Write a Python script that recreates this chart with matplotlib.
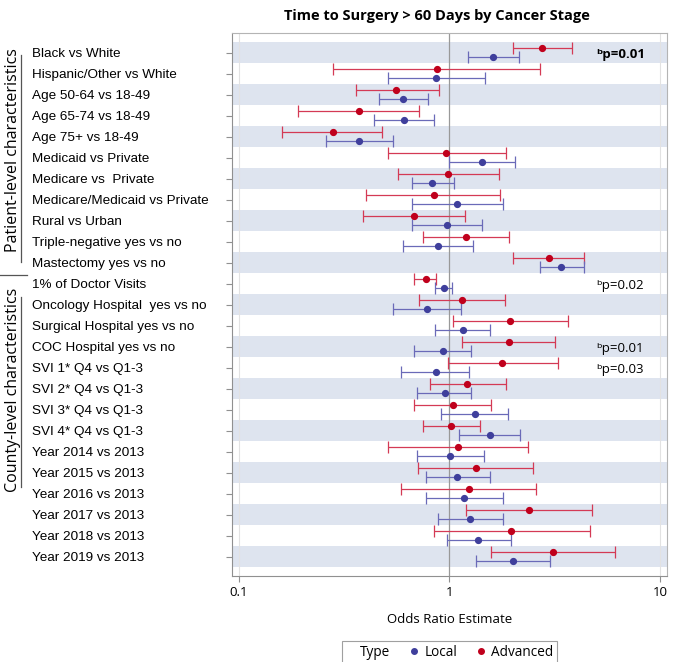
import matplotlib.pyplot as plt
import numpy as np
from matplotlib.lines import Line2D

plt.rcParams["font.family"] = ["Open Sans", "DejaVu Sans"]

labels = [
    "Black vs White", "Hispanic/Other vs White", "Age 50-64 vs 18-49",
    "Age 65-74 vs 18-49", "Age 75+ vs 18-49", "Medicaid vs Private",
    "Medicare vs  Private", "Medicare/Medicaid vs Private", "Rural vs Urban",
    "Triple-negative yes vs no", "Mastectomy yes vs no", "1% of Doctor Visits",
    "Oncology Hospital  yes vs no", "Surgical Hospital yes vs no",
    "COC Hospital yes vs no", "SVI 1* Q4 vs Q1-3", "SVI 2* Q4 vs Q1-3",
    "SVI 3* Q4 vs Q1-3", "SVI 4* Q4 vs Q1-3", "Year 2014 vs 2013",
    "Year 2015 vs 2013", "Year 2016 vs 2013", "Year 2017 vs 2013",
    "Year 2018 vs 2013", "Year 2019 vs 2013",
]

# odds ratios and 95% CI
local_or = [1.61, 0.86, 0.60, 0.61, 0.37, 1.43, 0.83, 1.08, 0.97, 0.88, 3.40, 0.94,
            0.78, 1.16, 0.93, 0.86, 0.95, 1.32, 1.56, 1.01, 1.09, 1.17, 1.25, 1.36, 2.00]
local_lo = [1.22, 0.51, 0.46, 0.44, 0.26, 1.00, 0.66, 0.66, 0.66, 0.60, 2.70, 0.85,
            0.54, 0.85, 0.68, 0.59, 0.70, 0.91, 1.11, 0.70, 0.77, 0.77, 0.88, 0.97, 1.33]
local_hi = [2.14, 1.47, 0.79, 0.84, 0.54, 2.05, 1.05, 1.79, 1.42, 1.30, 4.37, 1.03,
            1.13, 1.56, 1.27, 1.24, 1.27, 1.89, 2.17, 1.46, 1.55, 1.79, 1.79, 1.95, 2.99]
adv_or = [2.76, 0.87, 0.56, 0.37, 0.28, 0.96, 0.98, 0.84, 0.68, 1.20, 2.97, 0.77,
          1.15, 1.94, 1.92, 1.78, 1.21, 1.04, 1.02, 1.10, 1.33, 1.24, 2.38, 1.97, 3.09]
adv_lo = [2.00, 0.28, 0.36, 0.19, 0.16, 0.51, 0.57, 0.40, 0.39, 0.75, 2.00, 0.68,
          0.72, 1.04, 1.15, 0.98, 0.81, 0.68, 0.75, 0.51, 0.71, 0.59, 1.20, 0.84, 1.57]
adv_hi = [3.83, 2.70, 0.89, 0.72, 0.48, 1.85, 1.71, 1.74, 1.18, 1.92, 4.37, 0.86,
          1.83, 3.64, 3.18, 3.26, 1.85, 1.57, 1.40, 2.36, 2.48, 2.59, 4.73, 4.65, 6.11]

p_rows = [0, 11, 14, 15]
p_vals = ["0.01", "0.02", "0.01", "0.03"]

RED_LINE, RED_DOT = "#d43a55", "#c0001c"
BLUE_LINE, BLUE_DOT = "#6a6ab8", "#3f3f9c"
BAND = "#dee4ef"
W, H = 678, 662


def fx(px):
    return px / W


def fy(py):
    return 1 - py / H


fig = plt.figure(figsize=(W / 100, H / 100), dpi=100)
ax = fig.add_axes([fx(232), fy(576), fx(667) - fx(232), fy(33) - fy(576)])

y = np.arange(len(labels))
for i in range(0, len(labels), 2):
    ax.axhspan(i - 0.5, i + 0.5, color=BAND, lw=0, zorder=0)

ax.axvline(1, color="#999999", lw=0.9, zorder=1)
for v in (0.1, 10):
    ax.axvline(v, color="#e2e2e2", lw=0.8, zorder=1)

a_or, l_or = np.array(adv_or), np.array(local_or)
ax.errorbar(a_or, y - 0.22,
            xerr=[a_or - np.array(adv_lo), np.array(adv_hi) - a_or],
            fmt="none", ecolor=RED_LINE, elinewidth=0.9, capsize=4, capthick=0.9, zorder=2)
ax.errorbar(l_or, y + 0.2,
            xerr=[l_or - np.array(local_lo), np.array(local_hi) - l_or],
            fmt="none", ecolor=BLUE_LINE, elinewidth=0.9, capsize=4, capthick=0.9, zorder=2)
ax.plot(a_or, y - 0.22, "o", color=RED_DOT, ms=4.2, zorder=3)
ax.plot(l_or, y + 0.2, "o", color=BLUE_DOT, ms=4.2, zorder=3)

for k, (r, p) in enumerate(zip(p_rows, p_vals)):
    ax.text(5.0, r + 0.1, "\u1d47p=" + p, fontsize=9.5, va="center", ha="left",
            fontweight="bold" if k == 0 else "normal")

ax.set_xscale("log")
ax.set_xlim(0.0926, 10.8)
ax.set_ylim(len(labels) - 0.09, -0.94)
ax.set_xticks([0.1, 1, 10])
ax.set_xticklabels(["0.1", "1", "10"])
ax.minorticks_off()
ax.set_yticks(y)
ax.set_yticklabels(labels, fontsize=9.7, family="Liberation Sans", ha="left")
ax.tick_params(axis="y", length=4, color="#909090", width=0.8, pad=140)
ax.tick_params(axis="x", length=4, color="#909090", width=0.8, labelsize=9.5, pad=3)
for s in ax.spines.values():
    s.set_color("#b4b4b4")
    s.set_linewidth(0.8)
ax.spines["left"].set_color("#909090")
ax.spines["bottom"].set_color("#909090")

ax.set_xlabel("Odds Ratio Estimate", fontsize=9.5, labelpad=10)
fig.text(fx(437), fy(16), "Time to Surgery > 60 Days by Cancer Stage",
         fontsize=10.5, fontweight="bold", ha="center", va="center")

# group labels on the far left
fig.text(fx(13), fy(150), "Patient-level characteristics", rotation=90,
         fontsize=11.5, ha="center", va="center")
fig.text(fx(13), fy(390), "County-level characteristics", rotation=90,
         fontsize=11.5, ha="center", va="center")
for x0, y0, x1, y1 in [(21, 55, 21, 262), (21, 297, 21, 487), (0, 275, 27, 275)]:
    fig.add_artist(Line2D([fx(x0), fx(x1)], [fy(y0), fy(y1)], color="#555555", lw=0.9))

handles = [
    Line2D([], [], ls="none"),
    Line2D([], [], ls="none", marker="o", color=BLUE_DOT, ms=4),
    Line2D([], [], ls="none", marker="o", color=RED_DOT, ms=4),
]
leg = fig.legend(handles, ["Type", "Local", "Advanced"], ncol=3,
                 loc="center", bbox_to_anchor=(fx(449.5), fy(652)),
                 fontsize=9.8, frameon=True, fancybox=False, handlelength=0.6,
                 handletextpad=0.5, columnspacing=1.4, borderpad=0.25)
leg.get_frame().set_edgecolor("#888888")
leg.get_frame().set_linewidth(0.8)

fig.savefig("out.png", dpi=100)
